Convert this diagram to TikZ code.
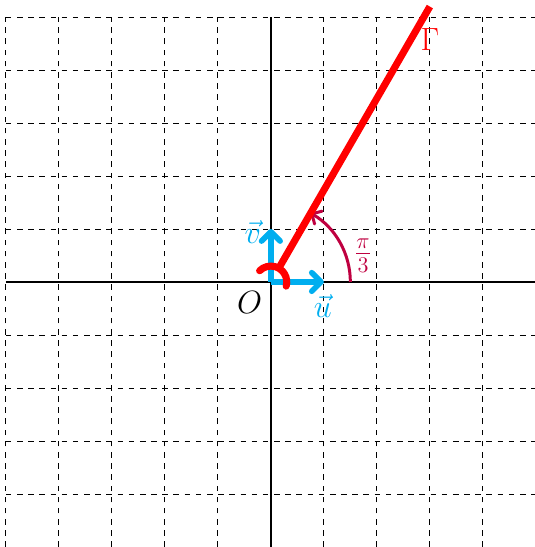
\documentclass[tikz,border=0pt]{standalone}
\usetikzlibrary{arrows.meta}
\definecolor{vcyan}{RGB}{0,174,239}
\tikzset{
  vecarrow/.style={vcyan,line width=3pt,-{Straight Barb[round,length=5pt,width=10pt]}},
  raystyle/.style={red,line width=3.8pt},
  lab/.style={font=\fontsize{17pt}{20pt}\selectfont},
}
\begin{document}
\begin{tikzpicture}
\useasboundingbox (-5.11,-5) rectangle (4.98,5.32);
\draw[dashed,line width=0.5pt] (-5,-5) grid (5,5);
\draw[line width=1pt] (-5,0)--(5,0);
\draw[line width=1pt] (0,-5)--(0,5);
\coordinate (O) at (0,0);
\coordinate (U) at (1,0);
\coordinate (V) at (0,1);
\coordinate (R0) at (60:0.3);
\coordinate (R1) at (60:6);
\draw[purple,line width=1.6pt,-{Straight Barb[round,length=4pt,width=8pt]}] (1.5,0) arc[start angle=0,end angle=60,radius=1.5];
\draw[vecarrow] (O)--(U);
\draw[vecarrow] (O)--(V);
\draw[raystyle] (R0)--(R1);
\draw[raystyle,line cap=round] (-15:0.3) arc[start angle=-15,end angle=135,radius=0.3];
\node[lab] (olab) at (-0.4,-0.38) {$O$};
\node[lab,vcyan] (ulab) at (0.98,-0.45) {$\vec{u}$};
\node[lab,vcyan] (vlab) at (-0.34,0.94) {$\vec{v}$};
\node[lab,purple] (anglab) at (1.74,0.5) {$\frac{\pi}{3}$};
\node[lab,red] (gamlab) at (3.0,4.57) {$\Gamma$};
\end{tikzpicture}
\end{document}
